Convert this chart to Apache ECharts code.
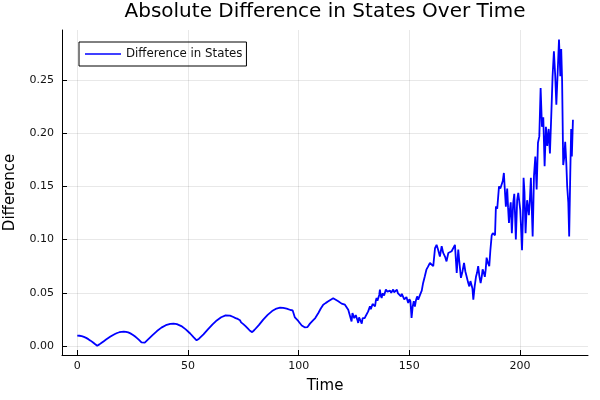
<!DOCTYPE html>
<html>
<head>
<meta charset="utf-8">
<script src="https://cdn.jsdelivr.net/npm/echarts@6/dist/echarts.min.js"></script>
<style>html,body{margin:0;padding:0;background:#fff}#c{width:600px;height:400px}</style>
</head>
<body>
<div id="c"></div>
<script>
const chartTitle = 'Absolute Difference in States Over Time';
const xName = 'Time';
const yName = 'Difference';
const seriesName = 'Difference in States';
const xTicks = [0, 50, 100, 150, 200];
const yTicks = [0, 0.05, 0.10, 0.15, 0.20, 0.25];

const time = [
0,1,2,3,4,5,6,7,8,9,10,11,12,13,14,15,16,17,18,19,20,21,22,23,24,25,26,27,28,29,29.6,30.5,32,34,36,38,40,42,43.5,45,47,49,51,52.5,53.9,55,57,59,61,63,65,67,69,70.5,71.5,72,72.5,73,73.5,74,74.5,75,75.5,76,76.5,77,77.5,78,78.5,79,80,82,84,86,88,90,91.6,93,94.6,95.5,96.3,96.8,97.3,98.3,99,99.8,100.5,101.4,102,102.7,103.3,104,104.5,105.1,105.8,106.6,107.5,108.9,110,111.1,112.3,113.4,114.5,115.6,116.5,117.9,118.6,119.4,120.1,120.9,121.6,122.4,123.2,123.9,124.3,124.7,125.1,125.4,125.8,126.2,126.6,126.9,127.3,127.7,128.1,128.5,128.9,129.2,129.6,129.9,130.3,130.7,131.0,131.4,131.8,132.2,132.6,133.0,133.4,133.7,134.1,134.5,134.9,135.2,135.6,136.0,136.4,136.7,137.1,137.5,137.9,138.2,138.6,139.0,139.4,139.7,140.1,140.5,140.9,141.3,141.8,142.2,142.7,143.1,143.5,143.9,144.4,144.8,145.3,145.7,146.2,146.6,147.2,147.7,148.2,148.7,149.1,149.5,150.0,150.5,151.0,151.5,152.0,152.5,153.0,153.5,154.0,154.5,155.0,155.6,156.2,157.0,157.7,158.5,159.3,160.1,160.8,161.6,162.3,163.0,163.8,164.6,165.3,166.1,166.8,167.6,168.3,169.1,169.8,170.6,171.4,172.1,172.5,173.3,174.0,174.7,175.3,175.9,176.5,177.1,177.6,178.1,178.5,178.9,179.5,180.1,180.6,181.1,181.6,182.2,182.7,183.1,183.6,184.1,184.5,184.9,185.5,186.1,186.6,187.2,187.7,188.2,188.7,189.1,189.7,190.5,191.1,191.7,192.2,192.7,193.1,193.6,194.2,194.6,195.0,195.4,195.8,196.3,196.9,197.4,197.8,198.1,198.7,199.2,199.6,200.1,200.5,200.9,201.3,201.6,202.0,202.5,202.9,203.2,203.6,204.0,204.5,204.9,205.3,205.7,206.0,206.3,206.9,207.5,208.1,208.7,209.3,209.9,210.5,211.1,211.7,212.3,212.9,213.5,214.1,214.7,215.3,215.9,216.4,217.0,217.6,218.2,218.6,219.0,219.5,220.0,220.4,220.9,221.3,221.8,222.2,222.7,223.1,223.4,223.9
];
const difference = [
0.0097,0.0096,0.0092,0.0085,0.0076,0.0064,0.0050,0.0035,0.0018,0.0002,0.0015,0.0030,0.0045,0.0060,0.0074,0.0088,0.0101,0.0112,0.0122,0.0129,0.0133,0.0134,0.0132,0.0127,0.0118,0.0106,0.0091,0.0074,0.0055,0.0034,0.0019,0.0032,0.0062,0.0102,0.0140,0.0172,0.0195,0.0207,0.0210,0.0205,0.0187,0.0156,0.0117,0.0083,0.0053,0.0068,0.0108,0.0155,0.0200,0.0240,0.0270,0.0288,0.0285,0.0272,0.0262,0.0248,0.0254,0.0236,0.0242,0.0222,0.0229,0.0205,0.0212,0.0186,0.0192,0.0165,0.0170,0.0143,0.0125,0.0130,0.0150,0.0196,0.0248,0.0292,0.0328,0.0352,0.0360,0.0357,0.0350,0.0346,0.0338,0.0328,0.0334,0.0268,0.0275,0.0235,0.0240,0.0192,0.0200,0.0175,0.0160,0.0178,0.0170,0.0210,0.0205,0.0243,0.0262,0.0310,0.0352,0.0388,0.0405,0.0420,0.0435,0.0448,0.0440,0.0420,0.0405,0.0398,0.0392,0.0388,0.0375,0.0340,0.0357,0.0231,0.0310,0.0300,0.0262,0.0247,0.0290,0.0294,0.0240,0.0216,0.0268,0.0263,0.0230,0.0210,0.0262,0.0278,0.0255,0.0263,0.0282,0.0294,0.0280,0.0325,0.0312,0.0372,0.0345,0.0341,0.0395,0.0404,0.0380,0.0372,0.0430,0.0451,0.0425,0.0419,0.0480,0.0529,0.0470,0.0451,0.0495,0.0513,0.0475,0.0466,0.0530,0.0545,0.0510,0.0498,0.0525,0.0520,0.0500,0.0515,0.0530,0.0505,0.0498,0.0520,0.0528,0.0497,0.0515,0.0512,0.0466,0.0490,0.0480,0.0437,0.0450,0.0460,0.0430,0.0404,0.0440,0.0420,0.0263,0.0370,0.0420,0.0370,0.0430,0.0466,0.0435,0.0450,0.0490,0.0520,0.0590,0.0655,0.0717,0.0748,0.0780,0.0795,0.0750,0.0920,0.0950,0.0905,0.0840,0.0937,0.0874,0.0840,0.0795,0.0874,0.0860,0.0890,0.0874,0.0950,0.0686,0.0905,0.0810,0.0640,0.0700,0.0780,0.0700,0.0650,0.0600,0.0560,0.0610,0.0600,0.0540,0.0435,0.0560,0.0650,0.0690,0.0750,0.0660,0.0590,0.0650,0.0720,0.0690,0.0650,0.0720,0.0830,0.0780,0.0750,0.0900,0.1040,0.1060,0.1070,0.1040,0.1310,0.1290,0.1500,0.1480,0.1470,0.1550,0.1626,0.1480,0.1310,0.1480,0.1300,0.1156,0.1280,0.1350,0.1060,0.1340,0.1430,0.1200,0.1000,0.1370,0.1440,0.1450,0.1280,0.1100,0.0900,0.1200,0.1580,0.1450,0.1060,0.1250,0.1370,0.1300,0.1230,0.1400,0.1580,0.1300,0.1030,0.1300,0.1600,0.1780,0.1470,0.1910,0.1970,0.2425,0.2060,0.2150,0.1690,0.2060,0.1880,0.2040,0.1810,0.2160,0.2535,0.2770,0.2535,0.2268,0.2570,0.2880,0.2535,0.2790,0.2500,0.1700,0.1780,0.1920,0.1720,0.1500,0.1350,0.1030,0.1630,0.2040,0.1780,0.2127
];

const FONT = 'DejaVu Sans';

const chart = echarts.init(document.getElementById('c'), null, { renderer: 'canvas' });
chart.setOption({
  animation: false,
  backgroundColor: '#fff',
  title: {
    text: chartTitle,
    left: 325, top: 2, padding: 0,
    textAlign: 'center',
    textStyle: { fontFamily: FONT, fontSize: 20, fontWeight: 'normal', color: '#000' }
  },
  legend: {
    data: [seriesName],
    left: 79, top: 42,
    padding: [6, 4, 6, 6],
    icon: 'rect',
    itemWidth: 36, itemHeight: 1.5,
    borderColor: '#000', borderWidth: 1, borderRadius: 0,
    backgroundColor: '#fff',
    textStyle: { fontFamily: FONT, fontSize: 11.8, color: '#111' }
  },
  grid: { left: 62, right: 12, top: 30, bottom: 45, containLabel: false, outerBoundsMode: 'none' },
  xAxis: {
    type: 'value',
    min: -6.9, max: 230.7,
    name: xName, nameLocation: 'middle', nameGap: 24,
    nameTextStyle: { fontFamily: FONT, fontSize: 15, color: '#000' },
    axisLine: { show: true, onZero: false, lineStyle: { color: '#000', width: 1 } },
    axisTick: { show: true, inside: true, length: 5, customValues: xTicks, lineStyle: { color: '#000' } },
    axisLabel: { customValues: xTicks, margin: 6, fontFamily: FONT, fontSize: 11, color: '#111' },
    splitLine: { show: false }
  },
  yAxis: {
    type: 'value',
    min: -0.0085, max: 0.297,
    name: yName, nameLocation: 'middle', nameGap: 44,
    nameTextStyle: { fontFamily: FONT, fontSize: 15, color: '#000' },
    axisLine: { show: true, onZero: false, lineStyle: { color: '#000', width: 1 } },
    axisTick: { show: true, inside: true, length: 5, customValues: yTicks, lineStyle: { color: '#000' } },
    axisLabel: { customValues: yTicks, margin: 8, fontFamily: FONT, fontSize: 11, color: '#111',
      formatter: v => v.toFixed(2) },
    splitLine: { show: false }
  },
  series: [
    {
      name: 'grid-lines', type: 'line', data: [], silent: true, z: 1,
      markLine: { silent: true, symbol: ['none', 'none'], label: { show: false }, animation: false,
        lineStyle: { type: 'solid', color: 'rgba(0,0,0,0.09)', width: 1 },
        data: xTicks.map(v => ({ xAxis: v })).concat(yTicks.map(v => ({ yAxis: v }))) }
    },
    {
      name: seriesName,
      type: 'line',
      z: 3,
      data: time.map((t, i) => [t, difference[i]]),
      symbol: 'none', showSymbol: false,
      lineStyle: { color: '#0000ff', width: 1.8 },
      itemStyle: { color: '#0000ff' }
    }
  ]
});
</script>
</body>
</html>
